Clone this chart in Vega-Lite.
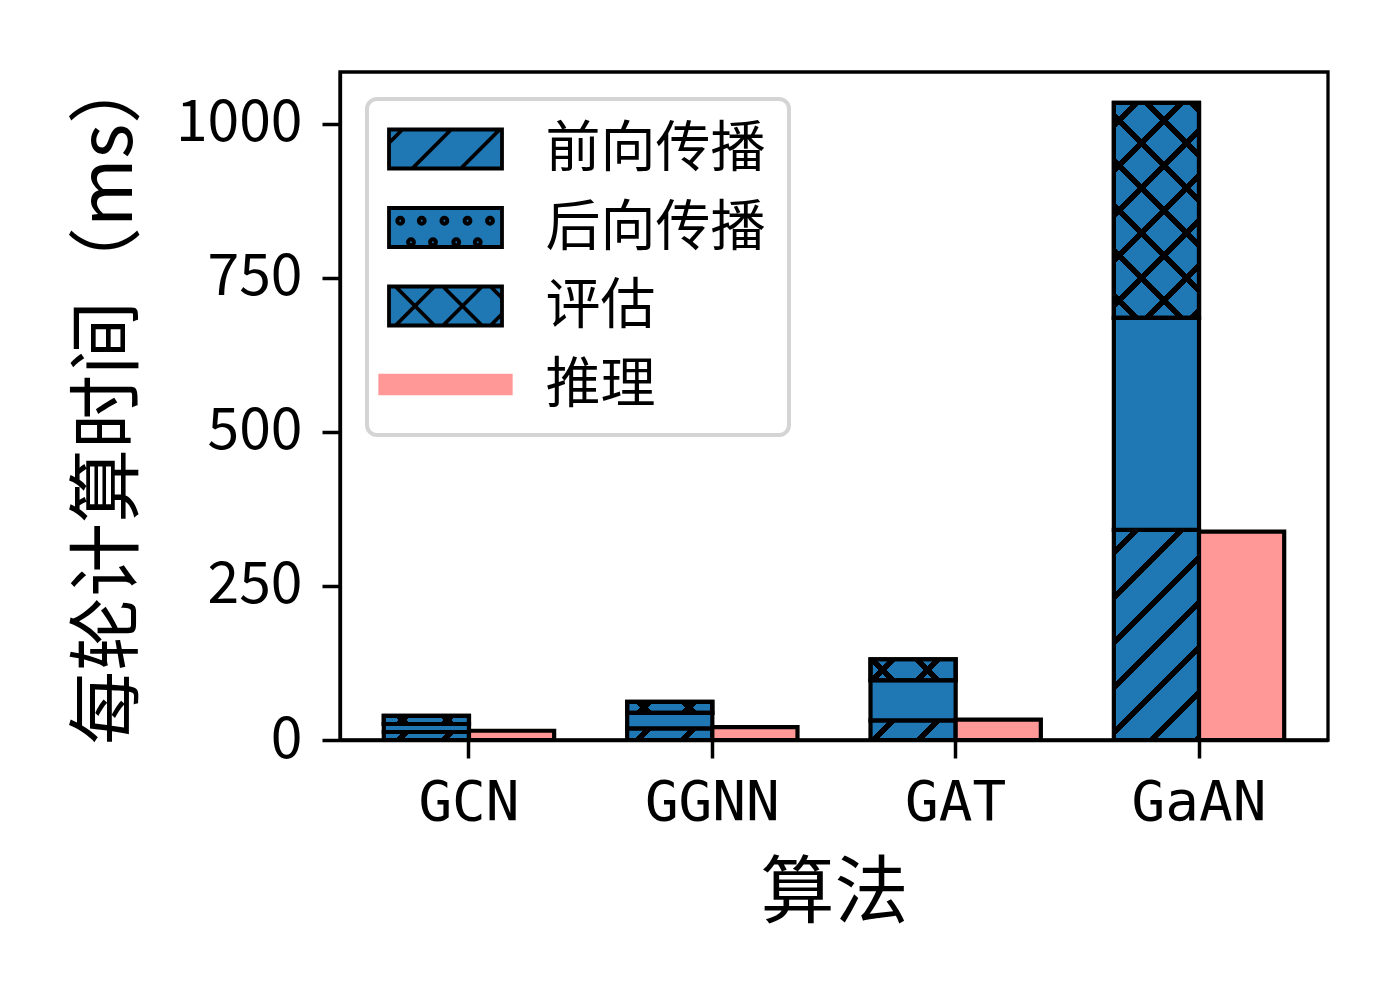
{
  "$schema": "https://vega.github.io/schema/vega-lite/v6.json",
  "width": 988,
  "height": 668,
  "autosize": {"type": "none"},
  "padding": {"left": 340, "top": 72, "right": 72, "bottom": 260},
  "background": "white",
  "data": {
    "values": [
      {"algo": "GCN", "group": "训练", "type": "前向传播", "value": 13},
      {"algo": "GCN", "group": "训练", "type": "后向传播", "value": 13},
      {"algo": "GCN", "group": "训练", "type": "评估", "value": 13},
      {"algo": "GCN", "group": "推理", "type": "推理", "value": 15},
      {"algo": "GGNN", "group": "训练", "type": "前向传播", "value": 19},
      {"algo": "GGNN", "group": "训练", "type": "后向传播", "value": 25},
      {"algo": "GGNN", "group": "训练", "type": "评估", "value": 18},
      {"algo": "GGNN", "group": "推理", "type": "推理", "value": 21},
      {"algo": "GAT", "group": "训练", "type": "前向传播", "value": 32},
      {"algo": "GAT", "group": "训练", "type": "后向传播", "value": 65},
      {"algo": "GAT", "group": "训练", "type": "评估", "value": 34},
      {"algo": "GAT", "group": "推理", "type": "推理", "value": 33},
      {"algo": "GaAN", "group": "训练", "type": "前向传播", "value": 341},
      {"algo": "GaAN", "group": "训练", "type": "后向传播", "value": 344},
      {"algo": "GaAN", "group": "训练", "type": "评估", "value": 349},
      {"algo": "GaAN", "group": "推理", "type": "推理", "value": 338}
    ]
  },
  "transform": [
    {"stack": "value", "groupby": ["algo", "group"], "sort": [{"field": "type", "order": "ascending"}], "as": ["v0", "v1"]}
  ],
  "layer": [
    {
      "mark": {"type": "bar", "stroke": "black", "strokeWidth": 4.2},
      "encoding": {
        "x": {"field": "algo", "type": "nominal", "sort": ["GCN", "GGNN", "GAT", "GaAN"], "scale": {"paddingInner": 0.3, "paddingOuter": 0.18}, "axis": {"title": "算法", "labelAngle": 0}},
        "xOffset": {"field": "group", "type": "nominal", "sort": ["训练", "推理"], "scale": {"paddingInner": 0, "paddingOuter": 0}},
        "y": {"field": "v1", "type": "quantitative", "scale": {"domain": [0, 1084], "nice": false}, "axis": {"title": "每轮计算时间（ms）", "values": [0, 250, 500, 750, 1000], "format": "d", "titleY": 325}},
        "y2": {"field": "v0"},
        "fill": {
          "condition": [
            {"test": "datum.type==='推理'", "value": "#ff9896"},
            {"test": "datum.type==='前向传播'&&datum.algo==='GaAN'", "value": {"gradient": "linear", "x1": 0, "y1": 0, "x2": 0.4895, "y2": 1.207, "stops": [
              {"offset": 0, "color": "#1f77b4"}, {"offset": 0.0627, "color": "#1f77b4"}, {"offset": 0.0627, "color": "#000000"}, {"offset": 0.0898, "color": "#000000"}, {"offset": 0.0898, "color": "#1f77b4"},
              {"offset": 0.2151, "color": "#1f77b4"}, {"offset": 0.2151, "color": "#000000"}, {"offset": 0.2422, "color": "#000000"}, {"offset": 0.2422, "color": "#1f77b4"},
              {"offset": 0.3675, "color": "#1f77b4"}, {"offset": 0.3675, "color": "#000000"}, {"offset": 0.3946, "color": "#000000"}, {"offset": 0.3946, "color": "#1f77b4"},
              {"offset": 0.5199, "color": "#1f77b4"}, {"offset": 0.5199, "color": "#000000"}, {"offset": 0.547, "color": "#000000"}, {"offset": 0.547, "color": "#1f77b4"},
              {"offset": 0.6723, "color": "#1f77b4"}, {"offset": 0.6723, "color": "#000000"}, {"offset": 0.6994, "color": "#000000"}, {"offset": 0.6994, "color": "#1f77b4"},
              {"offset": 0.8247, "color": "#1f77b4"}, {"offset": 0.8247, "color": "#000000"}, {"offset": 0.8518, "color": "#000000"}, {"offset": 0.8518, "color": "#1f77b4"},
              {"offset": 0.9771, "color": "#1f77b4"}, {"offset": 0.9771, "color": "#000000"}, {"offset": 1, "color": "#000000"}]}},
            {"test": "datum.type==='前向传播'&&datum.algo==='GAT'", "value": {"gradient": "linear", "x1": 0, "y1": 0, "x2": 1.1688, "y2": 0.2702, "stops": [
              {"offset": 0, "color": "#1f77b4"}, {"offset": 0.1764, "color": "#1f77b4"}, {"offset": 0.1764, "color": "#000000"}, {"offset": 0.2526, "color": "#000000"}, {"offset": 0.2526, "color": "#1f77b4"},
              {"offset": 0.6054, "color": "#1f77b4"}, {"offset": 0.6054, "color": "#000000"}, {"offset": 0.6816, "color": "#000000"}, {"offset": 0.6816, "color": "#1f77b4"}, {"offset": 1, "color": "#1f77b4"}]}},
            {"test": "datum.type==='前向传播'&&datum.algo==='GGNN'", "value": {"gradient": "linear", "x1": 0, "y1": 0, "x2": 1.1163, "y2": 0.1533, "stops": [
              {"offset": 0, "color": "#1f77b4"}, {"offset": 0.1909, "color": "#1f77b4"}, {"offset": 0.1909, "color": "#000000"}, {"offset": 0.2735, "color": "#000000"}, {"offset": 0.2735, "color": "#1f77b4"},
              {"offset": 0.6553, "color": "#1f77b4"}, {"offset": 0.6553, "color": "#000000"}, {"offset": 0.7379, "color": "#000000"}, {"offset": 0.7379, "color": "#1f77b4"}, {"offset": 1, "color": "#1f77b4"}]}},
            {"test": "datum.type==='前向传播'&&datum.algo==='GCN'", "value": {"gradient": "linear", "x1": 0, "y1": 0, "x2": 1.0843, "y2": 0.1018, "stops": [
              {"offset": 0, "color": "#1f77b4"}, {"offset": 0.1985, "color": "#1f77b4"}, {"offset": 0.1985, "color": "#000000"}, {"offset": 0.2843, "color": "#000000"}, {"offset": 0.2843, "color": "#1f77b4"},
              {"offset": 0.6813, "color": "#1f77b4"}, {"offset": 0.6813, "color": "#000000"}, {"offset": 0.7671, "color": "#000000"}, {"offset": 0.7671, "color": "#1f77b4"}, {"offset": 1, "color": "#1f77b4"}]}},
            {"test": "datum.type==='评估'&&datum.algo==='GaAN'", "value": {"gradient": "linear", "x1": 0, "y1": 1, "x2": 0.4782, "y2": -0.2068, "stops": [
              {"offset": 0, "color": "#1f77b4"}, {"offset": 0.0617, "color": "#1f77b4"}, {"offset": 0.0617, "color": "#000000"}, {"offset": 0.0883, "color": "#000000"}, {"offset": 0.0883, "color": "#1f77b4"},
              {"offset": 0.2116, "color": "#1f77b4"}, {"offset": 0.2116, "color": "#000000"}, {"offset": 0.2382, "color": "#000000"}, {"offset": 0.2382, "color": "#1f77b4"},
              {"offset": 0.3615, "color": "#1f77b4"}, {"offset": 0.3615, "color": "#000000"}, {"offset": 0.3881, "color": "#000000"}, {"offset": 0.3881, "color": "#1f77b4"},
              {"offset": 0.5114, "color": "#1f77b4"}, {"offset": 0.5114, "color": "#000000"}, {"offset": 0.538, "color": "#000000"}, {"offset": 0.538, "color": "#1f77b4"},
              {"offset": 0.6613, "color": "#1f77b4"}, {"offset": 0.6613, "color": "#000000"}, {"offset": 0.6879, "color": "#000000"}, {"offset": 0.6879, "color": "#1f77b4"},
              {"offset": 0.8112, "color": "#1f77b4"}, {"offset": 0.8112, "color": "#000000"}, {"offset": 0.8378, "color": "#000000"}, {"offset": 0.8378, "color": "#1f77b4"},
              {"offset": 0.9611, "color": "#1f77b4"}, {"offset": 0.9611, "color": "#000000"}, {"offset": 0.9877, "color": "#000000"}, {"offset": 0.9877, "color": "#1f77b4"}, {"offset": 1, "color": "#1f77b4"}]}},
            {"test": "datum.type==='评估'&&datum.algo==='GAT'", "value": {"gradient": "linear", "x1": 0, "y1": 1, "x2": 1.1746, "y2": 0.7119, "stops": [
              {"offset": 0, "color": "#1f77b4"}, {"offset": 0.1744, "color": "#1f77b4"}, {"offset": 0.1744, "color": "#000000"}, {"offset": 0.2498, "color": "#000000"}, {"offset": 0.2498, "color": "#1f77b4"},
              {"offset": 0.5985, "color": "#1f77b4"}, {"offset": 0.5985, "color": "#000000"}, {"offset": 0.6739, "color": "#000000"}, {"offset": 0.6739, "color": "#1f77b4"}, {"offset": 1, "color": "#1f77b4"}]}},
            {"test": "datum.type==='评估'&&datum.algo==='GGNN'", "value": {"gradient": "linear", "x1": 0, "y1": 1, "x2": 1.1114, "y2": 0.8552, "stops": [
              {"offset": 0, "color": "#1f77b4"}, {"offset": 0.1921, "color": "#1f77b4"}, {"offset": 0.1921, "color": "#000000"}, {"offset": 0.2751, "color": "#000000"}, {"offset": 0.2751, "color": "#1f77b4"},
              {"offset": 0.6594, "color": "#1f77b4"}, {"offset": 0.6594, "color": "#000000"}, {"offset": 0.7424, "color": "#000000"}, {"offset": 0.7424, "color": "#1f77b4"}, {"offset": 1, "color": "#1f77b4"}]}},
            {"test": "datum.type==='评估'&&datum.algo==='GCN'", "value": {"gradient": "linear", "x1": 0, "y1": 1, "x2": 1.0843, "y2": 0.8982, "stops": [
              {"offset": 0, "color": "#1f77b4"}, {"offset": 0.1985, "color": "#1f77b4"}, {"offset": 0.1985, "color": "#000000"}, {"offset": 0.2843, "color": "#000000"}, {"offset": 0.2843, "color": "#1f77b4"},
              {"offset": 0.6813, "color": "#1f77b4"}, {"offset": 0.6813, "color": "#000000"}, {"offset": 0.7671, "color": "#000000"}, {"offset": 0.7671, "color": "#1f77b4"}, {"offset": 1, "color": "#1f77b4"}]}}
          ],
          "value": "#1f77b4"
        }
      }
    },
    {
      "transform": [{"filter": "datum.type==='评估'"}],
      "mark": {"type": "bar", "stroke": "black", "strokeWidth": 4.2},
      "encoding": {
        "x": {"field": "algo", "type": "nominal", "sort": ["GCN", "GGNN", "GAT", "GaAN"]},
        "xOffset": {"field": "group", "type": "nominal", "sort": ["训练", "推理"]},
        "y": {"field": "v1", "type": "quantitative"},
        "y2": {"field": "v0"},
        "fill": {
          "condition": [
            {"test": "datum.algo==='GaAN'", "value": {"gradient": "linear", "x1": 0, "y1": 0, "x2": 0.4782, "y2": 1.2068, "stops": [
              {"offset": 0, "color": "rgba(0,0,0,0)"}, {"offset": 0.0617, "color": "rgba(0,0,0,0)"}, {"offset": 0.0617, "color": "#000000"}, {"offset": 0.0883, "color": "#000000"}, {"offset": 0.0883, "color": "rgba(0,0,0,0)"},
              {"offset": 0.2116, "color": "rgba(0,0,0,0)"}, {"offset": 0.2116, "color": "#000000"}, {"offset": 0.2382, "color": "#000000"}, {"offset": 0.2382, "color": "rgba(0,0,0,0)"},
              {"offset": 0.3615, "color": "rgba(0,0,0,0)"}, {"offset": 0.3615, "color": "#000000"}, {"offset": 0.3881, "color": "#000000"}, {"offset": 0.3881, "color": "rgba(0,0,0,0)"},
              {"offset": 0.5114, "color": "rgba(0,0,0,0)"}, {"offset": 0.5114, "color": "#000000"}, {"offset": 0.538, "color": "#000000"}, {"offset": 0.538, "color": "rgba(0,0,0,0)"},
              {"offset": 0.6613, "color": "rgba(0,0,0,0)"}, {"offset": 0.6613, "color": "#000000"}, {"offset": 0.6879, "color": "#000000"}, {"offset": 0.6879, "color": "rgba(0,0,0,0)"},
              {"offset": 0.8112, "color": "rgba(0,0,0,0)"}, {"offset": 0.8112, "color": "#000000"}, {"offset": 0.8378, "color": "#000000"}, {"offset": 0.8378, "color": "rgba(0,0,0,0)"},
              {"offset": 0.9611, "color": "rgba(0,0,0,0)"}, {"offset": 0.9611, "color": "#000000"}, {"offset": 0.9877, "color": "#000000"}, {"offset": 0.9877, "color": "rgba(0,0,0,0)"}, {"offset": 1, "color": "rgba(0,0,0,0)"}]}},
            {"test": "datum.algo==='GAT'", "value": {"gradient": "linear", "x1": 0, "y1": 0, "x2": 1.1746, "y2": 0.2881, "stops": [
              {"offset": 0, "color": "rgba(0,0,0,0)"}, {"offset": 0.1744, "color": "rgba(0,0,0,0)"}, {"offset": 0.1744, "color": "#000000"}, {"offset": 0.2498, "color": "#000000"}, {"offset": 0.2498, "color": "rgba(0,0,0,0)"},
              {"offset": 0.5985, "color": "rgba(0,0,0,0)"}, {"offset": 0.5985, "color": "#000000"}, {"offset": 0.6739, "color": "#000000"}, {"offset": 0.6739, "color": "rgba(0,0,0,0)"}, {"offset": 1, "color": "rgba(0,0,0,0)"}]}},
            {"test": "datum.algo==='GGNN'", "value": {"gradient": "linear", "x1": 0, "y1": 0, "x2": 1.1114, "y2": 0.1448, "stops": [
              {"offset": 0, "color": "rgba(0,0,0,0)"}, {"offset": 0.1921, "color": "rgba(0,0,0,0)"}, {"offset": 0.1921, "color": "#000000"}, {"offset": 0.2751, "color": "#000000"}, {"offset": 0.2751, "color": "rgba(0,0,0,0)"},
              {"offset": 0.6594, "color": "rgba(0,0,0,0)"}, {"offset": 0.6594, "color": "#000000"}, {"offset": 0.7424, "color": "#000000"}, {"offset": 0.7424, "color": "rgba(0,0,0,0)"}, {"offset": 1, "color": "rgba(0,0,0,0)"}]}},
            {"test": "datum.algo==='GCN'", "value": {"gradient": "linear", "x1": 0, "y1": 0, "x2": 1.0843, "y2": 0.1018, "stops": [
              {"offset": 0, "color": "rgba(0,0,0,0)"}, {"offset": 0.1985, "color": "rgba(0,0,0,0)"}, {"offset": 0.1985, "color": "#000000"}, {"offset": 0.2843, "color": "#000000"}, {"offset": 0.2843, "color": "rgba(0,0,0,0)"},
              {"offset": 0.6813, "color": "rgba(0,0,0,0)"}, {"offset": 0.6813, "color": "#000000"}, {"offset": 0.7671, "color": "#000000"}, {"offset": 0.7671, "color": "rgba(0,0,0,0)"}, {"offset": 1, "color": "rgba(0,0,0,0)"}]}}
          ],
          "value": "rgba(0,0,0,0)"
        }
      }
    },
    {
      "transform": [{"filter": "false"}],
      "mark": {"type": "point", "filled": true, "opacity": 1, "strokeWidth": 3.8},
      "encoding": {
        "fill": {"field": "type", "type": "nominal",
          "scale": {"domain": ["前向传播", "后向传播", "评估", "推理"], "range": ["#1f77b4", "#1f77b4", "#1f77b4", "#ff9896"]},
          "legend": {"title": null, "orient": "none", "legendX": 27, "legendY": 27, "padding": 22.5, "rowPadding": 22.5, "labelOffset": 72.5, "symbolOffset": 28.5, "labelFont": "Noto Sans CJK SC", "labelFontSize": 55, "labelColor": "black", "symbolSize": 2500, "symbolStrokeWidth": 3.8, "symbolOpacity": 1, "fillColor": "white", "strokeColor": "#d4d4d4", "cornerRadius": 10, "labelLimit": 400,
            "encode": {"legend": {"update": {"strokeWidth": {"value": 4}}}}}},
        "shape": {"field": "type", "type": "nominal",
          "scale": {"domain": ["前向传播", "后向传播", "评估", "推理"], "range": [
            "M-2.26,-0.78H2.26V0.78H-2.26ZM-2.26,-0.24L-1.72,-0.78M-1.332,0.78L0.228,-0.78M0.612,0.78L2.172,-0.78",
            "M-2.26,-0.78H2.26V0.78H-2.26ZM-1.93,-0.27a0.12,0.12 0 1,1 0.24,0a0.12,0.12 0 1,1 -0.24,0ZM-1.85,-0.27a0.04,0.04 0 1,1 0.08,0a0.04,0.04 0 1,1 -0.08,0ZM-1.07,-0.27a0.12,0.12 0 1,1 0.24,0a0.12,0.12 0 1,1 -0.24,0ZM-0.99,-0.27a0.04,0.04 0 1,1 0.08,0a0.04,0.04 0 1,1 -0.08,0ZM-0.164,-0.27a0.12,0.12 0 1,1 0.24,0a0.12,0.12 0 1,1 -0.24,0ZM-0.084,-0.27a0.04,0.04 0 1,1 0.08,0a0.04,0.04 0 1,1 -0.08,0ZM0.76,-0.27a0.12,0.12 0 1,1 0.24,0a0.12,0.12 0 1,1 -0.24,0ZM0.84,-0.27a0.04,0.04 0 1,1 0.08,0a0.04,0.04 0 1,1 -0.08,0ZM1.66,-0.27a0.12,0.12 0 1,1 0.24,0a0.12,0.12 0 1,1 -0.24,0ZM1.74,-0.27a0.04,0.04 0 1,1 0.08,0a0.04,0.04 0 1,1 -0.08,0ZM-1.5,0.59a0.12,0.12 0 1,1 0.24,0a0.12,0.12 0 1,1 -0.24,0ZM-1.42,0.59a0.04,0.04 0 1,1 0.08,0a0.04,0.04 0 1,1 -0.08,0ZM-0.62,0.59a0.12,0.12 0 1,1 0.24,0a0.12,0.12 0 1,1 -0.24,0ZM-0.54,0.59a0.04,0.04 0 1,1 0.08,0a0.04,0.04 0 1,1 -0.08,0ZM0.31,0.59a0.12,0.12 0 1,1 0.24,0a0.12,0.12 0 1,1 -0.24,0ZM0.39,0.59a0.04,0.04 0 1,1 0.08,0a0.04,0.04 0 1,1 -0.08,0ZM1.17,0.59a0.12,0.12 0 1,1 0.24,0a0.12,0.12 0 1,1 -0.24,0ZM1.25,0.59a0.04,0.04 0 1,1 0.08,0a0.04,0.04 0 1,1 -0.08,0Z",
            "M-2.26,-0.78H2.26V0.78H-2.26ZM-2,0.78L-0.44,-0.78M-2,-0.78L-0.44,0.78M-0.1,0.78L1.46,-0.78M-0.1,-0.78L1.46,0.78M1.8,0.78L2.26,0.32M1.8,-0.78L2.26,-0.32",
            "M-2.61,-0.35H2.61V0.35H-2.61Z"
          ]},
          "legend": {"title": null, "orient": "none", "legendX": 27, "legendY": 27, "padding": 22.5, "rowPadding": 22.5, "labelOffset": 72.5, "symbolOffset": 28.5, "labelFont": "Noto Sans CJK SC", "labelFontSize": 55, "labelColor": "black", "symbolSize": 2500, "symbolStrokeWidth": 3.8, "symbolOpacity": 1, "fillColor": "white", "strokeColor": "#d4d4d4", "cornerRadius": 10, "labelLimit": 400,
            "encode": {"legend": {"update": {"strokeWidth": {"value": 4}}}}}},
        "stroke": {"field": "type", "type": "nominal",
          "scale": {"domain": ["前向传播", "后向传播", "评估", "推理"], "range": ["#000000", "#000000", "#000000", "#ff9896"]},
          "legend": {"title": null, "orient": "none", "legendX": 27, "legendY": 27, "padding": 22.5, "rowPadding": 22.5, "labelOffset": 72.5, "symbolOffset": 28.5, "labelFont": "Noto Sans CJK SC", "labelFontSize": 55, "labelColor": "black", "symbolSize": 2500, "symbolStrokeWidth": 3.8, "symbolOpacity": 1, "fillColor": "white", "strokeColor": "#d4d4d4", "cornerRadius": 10, "labelLimit": 400,
            "encode": {"legend": {"update": {"strokeWidth": {"value": 4}}}}}}
      }
    }
  ],
  "config": {
    "view": {"stroke": "black", "strokeWidth": 3.3},
    "axis": {"domainColor": "black", "domainWidth": 3.3, "tickColor": "black", "tickWidth": 3.5, "tickSize": 18, "labelColor": "black", "titleColor": "black", "titleFont": "Noto Sans CJK SC", "titleFontSize": 74, "titleFontWeight": "normal", "grid": false},
    "axisX": {"labelFont": "DejaVu Sans Mono", "labelFontSize": 56, "labelPadding": 17, "titlePadding": 28},
    "axisY": {"labelFont": "Noto Sans CJK SC", "labelFontSize": 57, "labelPadding": 20, "titlePadding": 28}
  }
}
